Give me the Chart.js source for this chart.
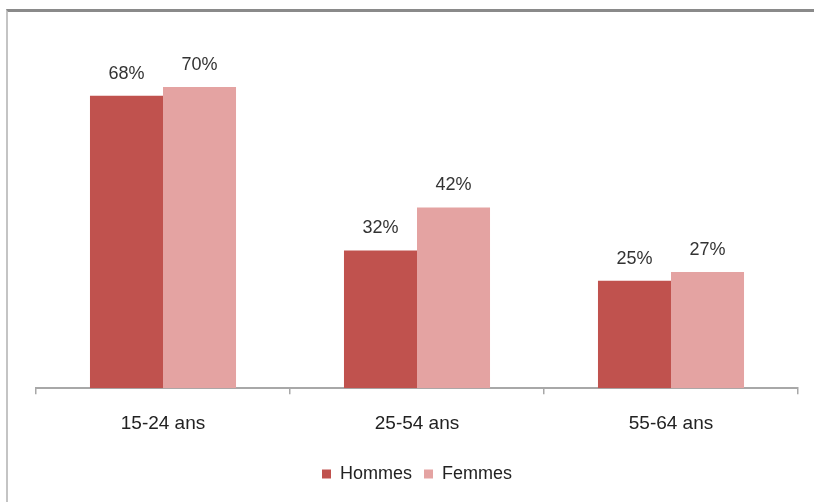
<!DOCTYPE html>
<html>
<head>
<meta charset="utf-8">
<script src="https://cdn.jsdelivr.net/npm/chart.js@4/dist/chart.umd.min.js"></script>
<style>
  html, body { margin: 0; padding: 0; background: #ffffff; }
  #wrap { position: relative; width: 814px; height: 502px; overflow: hidden; }
  #frame { position: absolute; left: 6px; top: 9px; width: 820px; height: 520px;
           border-top: 3px solid #8a8a8a; border-left: 2px solid #c4c4c4; pointer-events: none; }
  canvas { position: absolute; left: 0; top: 0; }
</style>
</head>
<body>
<div id="wrap">
  <canvas id="chart" width="814" height="502"></canvas>
  <div id="frame"></div>
</div>
<script>
// Age groups and share per sex (%)
const categories = ['15-24 ans', '25-54 ans', '55-64 ans'];
const hommes = [68, 32, 25];
const femmes = [70, 42, 27];
const seriesNames = ['Hommes', 'Femmes'];

const FONT = '"Liberation Sans", Arial, sans-serif';

// Writes each bar's value above it, e.g. "68%"
const valueLabels = {
  id: 'valueLabels',
  afterDatasetsDraw(chart) {
    const ctx = chart.ctx;
    ctx.save();
    ctx.font = '18px ' + FONT;
    ctx.fillStyle = '#333333';
    ctx.textAlign = 'center';
    ctx.textBaseline = 'bottom';
    chart.data.datasets.forEach((ds, i) => {
      chart.getDatasetMeta(i).data.forEach((bar, j) => {
        ctx.fillText(ds.data[j] + '%', bar.x, bar.y - 13);
      });
    });
    ctx.restore();
  }
};

new Chart(document.getElementById('chart'), {
  type: 'bar',
  data: {
    labels: categories,
    datasets: [
      { label: seriesNames[0], data: hommes, backgroundColor: '#c0524e' },
      { label: seriesNames[1], data: femmes, backgroundColor: '#e4a3a2' }
    ]
  },
  options: {
    responsive: false,
    animation: false,
    layout: { padding: { left: 36, right: 16, top: 44, bottom: 9 } },
    datasets: { bar: { categoryPercentage: 0.575, barPercentage: 1.0 } },
    scales: {
      x: {
        grid: { display: true, drawOnChartArea: false, drawTicks: true, tickLength: 6, color: '#a8a8a8', lineWidth: 1.5 },
        border: { display: true, color: '#a8a8a8', width: 2 },
        ticks: { color: '#222222', font: { family: FONT, size: 19 }, padding: 18 }
      },
      y: {
        display: false,
        min: 0,
        max: 80
      }
    },
    plugins: {
      legend: {
        position: 'bottom',
        labels: {
          boxWidth: 9, boxHeight: 9, padding: 12,
          color: '#222222', font: { family: FONT, size: 18 }
        }
      },
      tooltip: { enabled: false }
    }
  },
  plugins: [valueLabels]
});
</script>
</body>
</html>
